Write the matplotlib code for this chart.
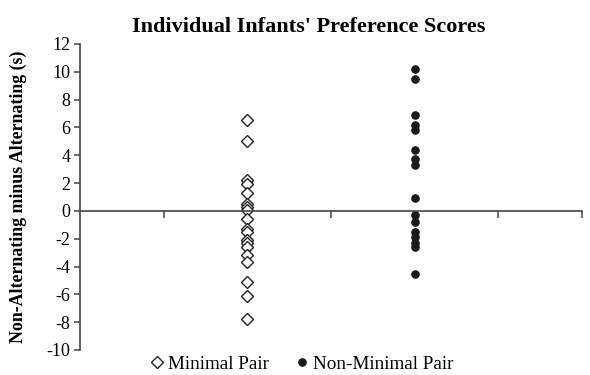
import matplotlib.pyplot as plt

# preference scores (s), one value per infant
minimal_pair = [6.5, 5.0, 2.2, 1.9, 1.3, 0.5, 0.3, 0.1, -0.6, -1.3, -1.5,
                -2.1, -2.3, -2.6, -3.2, -3.7, -5.1, -6.1, -7.8]
non_minimal_pair = [10.2, 9.5, 6.9, 6.2, 5.8, 4.4, 3.7, 3.3, 0.9, -0.3, -0.8,
                    -1.5, -1.9, -2.3, -2.6, -4.5]
group_x = [1, 2]
y_ticks = list(range(-10, 13, 2))

plt.rcParams['font.family'] = ['Liberation Serif', 'DejaVu Serif']
plt.rcParams['axes.unicode_minus'] = False

fig = plt.figure(figsize=(5.9, 3.75), dpi=100)
ax = fig.add_axes([80 / 590, 1 - 350 / 375, 502 / 590, 306 / 375])

ax.plot([group_x[0]] * len(minimal_pair), minimal_pair, linestyle='none',
        marker='D', markersize=6.3, markerfacecolor='white',
        markeredgecolor='#222222', markeredgewidth=1.0, label='Minimal Pair')
ax.plot([group_x[1]] * len(non_minimal_pair), non_minimal_pair, linestyle='none',
        marker='o', markersize=5.2, color='#1a1a1a', label='Non-Minimal Pair')

ax.set_xlim(0, 3)
ax.set_ylim(-10, 12)
ax.set_yticks(y_ticks)
ax.set_xticks([0.5, 1.5, 2.5, 3.0])
ax.set_xticklabels([])

for side in ['top', 'right']:
    ax.spines[side].set_visible(False)
ax.spines['bottom'].set_position(('data', 0))
for side in ['left', 'bottom']:
    ax.spines[side].set_color('#444444')
    ax.spines[side].set_linewidth(1.2)
ax.tick_params(axis='y', direction='out', length=4, width=1.1, color='#444444',
               labelsize=13, pad=3)
ax.tick_params(axis='x', direction='out', length=5, width=1.1, color='#444444')

ax.set_title("Individual Infants' Preference Scores", fontsize=16,
             fontweight='bold', pad=9, x=0.455)
ax.set_ylabel('Non-Alternating minus Alternating (s)', fontsize=12.9,
              fontweight='bold', labelpad=14)

fig.legend(loc='center', bbox_to_anchor=(300 / 590, 1 - 364 / 375), ncol=2,
           frameon=False, fontsize=13.8, handletextpad=0.0, columnspacing=1.2,
           handlelength=1.1, borderpad=0)

fig.savefig('out.png', dpi=100)
